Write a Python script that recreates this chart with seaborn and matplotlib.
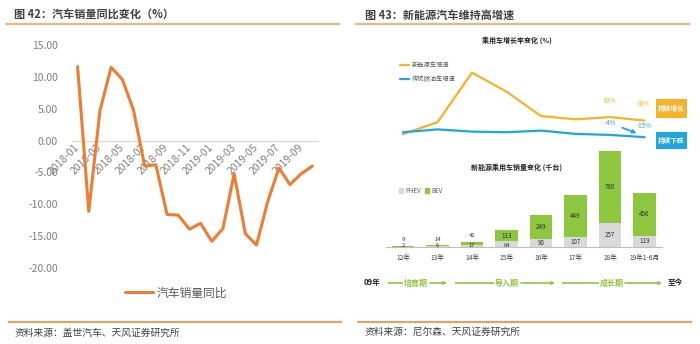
import matplotlib
matplotlib.use("Agg")
import matplotlib.pyplot as plt
from matplotlib.patches import Rectangle, Patch
from matplotlib.ticker import FixedLocator
import seaborn as sns

# ---------------- data ----------------
months = ["2018-01", "2018-02", "2018-03", "2018-04", "2018-05", "2018-06",
          "2018-07", "2018-08", "2018-09", "2018-10", "2018-11", "2018-12",
          "2019-01", "2019-02", "2019-03", "2019-04", "2019-05", "2019-06",
          "2019-07", "2019-08", "2019-09", "2019-10"]
sales_yoy = [11.6, -11.1, 4.7, 11.5, 9.6, 4.8, -4.0, -3.8, -11.6, -11.7,
             -13.9, -13.0, -15.8, -13.8, -5.2, -14.6, -16.4, -9.6, -4.3,
             -6.9, -5.2, -4.0]
y_ticks = [-20, -15, -10, -5, 0, 5, 10, 15]

years = ["12年", "13年", "14年", "15年", "16年", "17年", "18年", "19年1-6月"]
nev_growth = [0, 58, 300, 207, 88, 72, 83, 66]
ice_growth = [9, 23, 12, 9, 17, 1, -4, -15]
phev = [2, 6, 17, 64, 90, 107, 257, 119]
bev = [9, 14, 41, 113, 249, 449, 760, 456]

# ---------------- style ----------------
sns.set_style("white")
plt.rcParams["font.family"] = ["Noto Sans CJK SC", "DejaVu Sans"]
plt.rcParams["axes.unicode_minus"] = False

W, H = 700, 344
fig = plt.figure(figsize=(W / 100, H / 100), dpi=100)
fig.patch.set_facecolor("white")


def fax(x0, y0, x1, y1):
    """Axes placed by pixel box (top-left origin)."""
    return fig.add_axes([x0 / W, 1 - y1 / H, (x1 - x0) / W, (y1 - y0) / H])


ORANGE = "#ED7D31"
GREY_TXT = "#7F7F7F"
NEV_C = "#F7B12B"
ICE_C = "#1FA5E0"
GREEN = "#8DC63F"
BAR_GREY = "#D9D9D9"

# ---------------- left: monthly sales yoy ----------------
ax = fax(72, 45, 318, 268)
sns.lineplot(x=list(range(len(months))), y=sales_yoy, ax=ax, color=ORANGE,
             linewidth=2.2, label="汽车销量同比")
ax.set_xlim(-0.5, len(months) - 0.5)
ax.set_ylim(y_ticks[0], y_ticks[-1])
for s in ["top", "right", "left"]:
    ax.spines[s].set_visible(False)
ax.spines["bottom"].set_position(("data", 0))
ax.spines["bottom"].set_color("#D9D9D9")
ax.spines["bottom"].set_linewidth(1.0)
ax.spines["bottom"].set_zorder(0)
ax.set_yticks(y_ticks)
ax.set_yticklabels([f"{v:.2f}" for v in y_ticks], color=GREY_TXT, fontsize=7.5)
ax.tick_params(axis="y", length=0, pad=10)
ax.set_xticks(list(range(0, len(months), 2)))
ax.set_xticklabels(months[::2], rotation=45, ha="right", va="center",
                   rotation_mode="anchor", color=GREY_TXT, fontsize=7.5)
ax.tick_params(axis="x", which="major", length=0, pad=4)
ax.xaxis.set_minor_locator(FixedLocator([i - 0.5 for i in range(0, len(months) + 1, 2)]))
ax.tick_params(axis="x", which="minor", length=3, width=0.8, color="#D9D9D9",
               direction="out")
ax.set_xlabel("")
ax.set_ylabel("")
ax.legend(loc="center", bbox_to_anchor=(176 / W, 1 - 293 / H),
          bbox_transform=fig.transFigure, frameon=False, fontsize=8.5,
          handlelength=2.4, handletextpad=0.3, labelcolor="#595959")

# ---------------- right top: growth rates ----------------
X0, X1 = 385.75, 661.75
axl = fax(X0, 60, X1, 150)
idx = list(range(len(years)))
sns.lineplot(x=idx, y=nev_growth, ax=axl, color=NEV_C, linewidth=1.6,
             label="新能源车增速")
sns.lineplot(x=idx, y=ice_growth, ax=axl, color=ICE_C, linewidth=1.6,
             label="传统燃油车增速")
axl.set_xlim(-0.5, len(years) - 0.5)
axl.set_ylim(-77.6, 361.5)
axl.axis("off")
axl.legend(loc="upper left", bbox_to_anchor=(400 / W, 1 - 61 / H),
           bbox_transform=fig.transFigure, frameon=False, fontsize=4.5,
           handlelength=1.5, handletextpad=0.4, labelspacing=1.0,
           borderpad=0, borderaxespad=0, labelcolor="#595959")
for i in (6, 7):
    axl.annotate(f"{nev_growth[i]}%", (i, nev_growth[i]), xytext=(0, 9),
                 textcoords="offset points", ha="center", va="bottom",
                 fontsize=4.5, color=NEV_C)
    axl.annotate(f"{ice_growth[i]}%", (i, ice_growth[i]), xytext=(0, 5.5),
                 textcoords="offset points", ha="center", va="bottom",
                 fontsize=4.5, color=ICE_C)
axl.annotate("", xy=(6.77, 5), xytext=(6.36, 31),
             arrowprops=dict(arrowstyle="-|>", color=ICE_C, lw=1.3,
                             mutation_scale=5, shrinkA=0, shrinkB=0))

# ---------------- right bottom: NEV sales ----------------
axb = fax(X0, 147, X1, 247)
totals = [p + b for p, b in zip(phev, bev)]
sns.barplot(x=years, y=totals, ax=axb, color=GREEN, saturation=1, width=0.66,
            linewidth=0)
sns.barplot(x=years, y=phev, ax=axb, color=BAR_GREY, saturation=1, width=0.66,
            linewidth=0)
axb.set_xlim(-0.5, len(years) - 0.5)
axb.set_ylim(0, 1064)
for s in ["top", "right", "left"]:
    axb.spines[s].set_visible(False)
axb.spines["bottom"].set_color("#BFBFBF")
axb.spines["bottom"].set_linewidth(0.8)
axb.set_yticks([])
axb.set_xlabel("")
axb.set_ylabel("")
axb.tick_params(axis="x", which="major", length=0, pad=5, labelsize=4.8,
                labelcolor="#404040")
axb.xaxis.set_minor_locator(FixedLocator([i - 0.5 for i in range(len(years) + 1)]))
axb.tick_params(axis="x", which="minor", length=2.5, width=0.6, color="#BFBFBF",
                direction="out")
px_per_unit = 100 / 1064
for i, (p, b) in enumerate(zip(phev, bev)):
    if b * px_per_unit >= 8:
        axb.text(i, p + b / 2, f"{b}", ha="center", va="center", fontsize=4.5,
                 color="#333333")
    else:
        axb.annotate(f"{b}", (i, p + b), xytext=(0, 2.6), textcoords="offset points",
                     ha="center", va="bottom", fontsize=4.2, color="#333333")
    if p * px_per_unit >= 8:
        axb.text(i, p / 2, f"{p}", ha="center", va="center", fontsize=4.5,
                 color="#333333")
    else:
        axb.annotate(f"{p}", (i, 0), xytext=(0, 1.2), textcoords="offset points",
                     ha="center", va="center", fontsize=4.2, color="#333333")
axb.legend(handles=[Patch(color=BAR_GREY), Patch(color=GREEN)],
           labels=["PHEV", "BEV"], ncol=2, loc="center left",
           bbox_to_anchor=(399 / W, 1 - 191 / H), bbox_transform=fig.transFigure,
           frameon=False, fontsize=4.5, handlelength=0.7, handleheight=0.9,
           handletextpad=0.3, columnspacing=0.6, borderpad=0, borderaxespad=0,
           labelcolor="#595959")

# ---------------- frame decorations ----------------
ov = fig.add_axes([0, 0, 1, 1], zorder=5)
ov.set_xlim(0, W)
ov.set_ylim(H, 0)
ov.axis("off")
ov.patch.set_alpha(0)

ov.text(14, 15, "图 42：汽车销量同比变化（%）", fontsize=8, fontweight="bold",
        color="#404040", va="center", ha="left")
ov.plot([5, 340], [24, 24], color="#F2B482", lw=1.6, solid_capstyle="butt")
ov.plot([8, 342], [321.5, 321.5], color="#F39B52", lw=1.4, solid_capstyle="butt")
ov.text(15, 333, "资料来源：盖世汽车、天风证券研究所", fontsize=7, color="#404040",
        va="center", ha="left")

ov.text(365, 15, "图 43：新能源汽车维持高增速", fontsize=8, fontweight="bold",
        color="#404040", va="center", ha="left")
ov.plot([355, 690], [24, 24], color="#F2B482", lw=1.6, solid_capstyle="butt")
ov.plot([357, 692], [321.5, 321.5], color="#F39B52", lw=1.4, solid_capstyle="butt")
ov.text(365, 332, "资料来源：尼尔森、天风证券研究所", fontsize=7, color="#404040",
        va="center", ha="left")

ov.text(517, 40, "乘用车增长率变化 (%)", fontsize=5, fontweight="bold",
        color="#222222", ha="center", va="center")
ov.text(517, 167, "新能源乘用车销量变化 (千台)", fontsize=5, fontweight="bold",
        color="#222222", ha="center", va="center")

ov.add_patch(Rectangle((656, 99), 31, 19, facecolor=NEV_C, edgecolor="none"))
ov.text(671.5, 108.5, "持续增长", fontsize=4.8, fontweight="bold", color="white",
        ha="center", va="center")
ov.add_patch(Rectangle((656, 132), 31, 17, facecolor=ICE_C, edgecolor="none"))
ov.text(671.5, 140.5, "持续下跌", fontsize=4.8, fontweight="bold", color="white",
        ha="center", va="center")

# development timeline
TY = 283
ov.text(372, TY, "09年", fontsize=5.5, fontweight="bold", color="#222222",
        ha="center", va="center")
ov.text(675, TY, "至今", fontsize=5.5, fontweight="bold", color="#222222",
        ha="center", va="center")
stages = [("培育期", 388, 403, 416, 430, 447),
          ("导入期", 455, 494, 507, 521, 555),
          ("成长期", 562, 599, 612, 625, 662)]
for name, a0, a1, tc, b0, b1 in stages:
    ov.plot([a0, a1], [TY, TY], color=GREEN, lw=1.2, solid_capstyle="butt")
    ov.text(tc, TY, name, fontsize=5.8, fontweight="bold", color=GREEN,
            ha="center", va="center")
    ov.annotate("", xy=(b1, TY), xytext=(b0, TY),
                arrowprops=dict(arrowstyle="-|>", color=GREEN, lw=1.2,
                                mutation_scale=4, shrinkA=0, shrinkB=0))

fig.savefig("out.png", dpi=100, facecolor="white")
